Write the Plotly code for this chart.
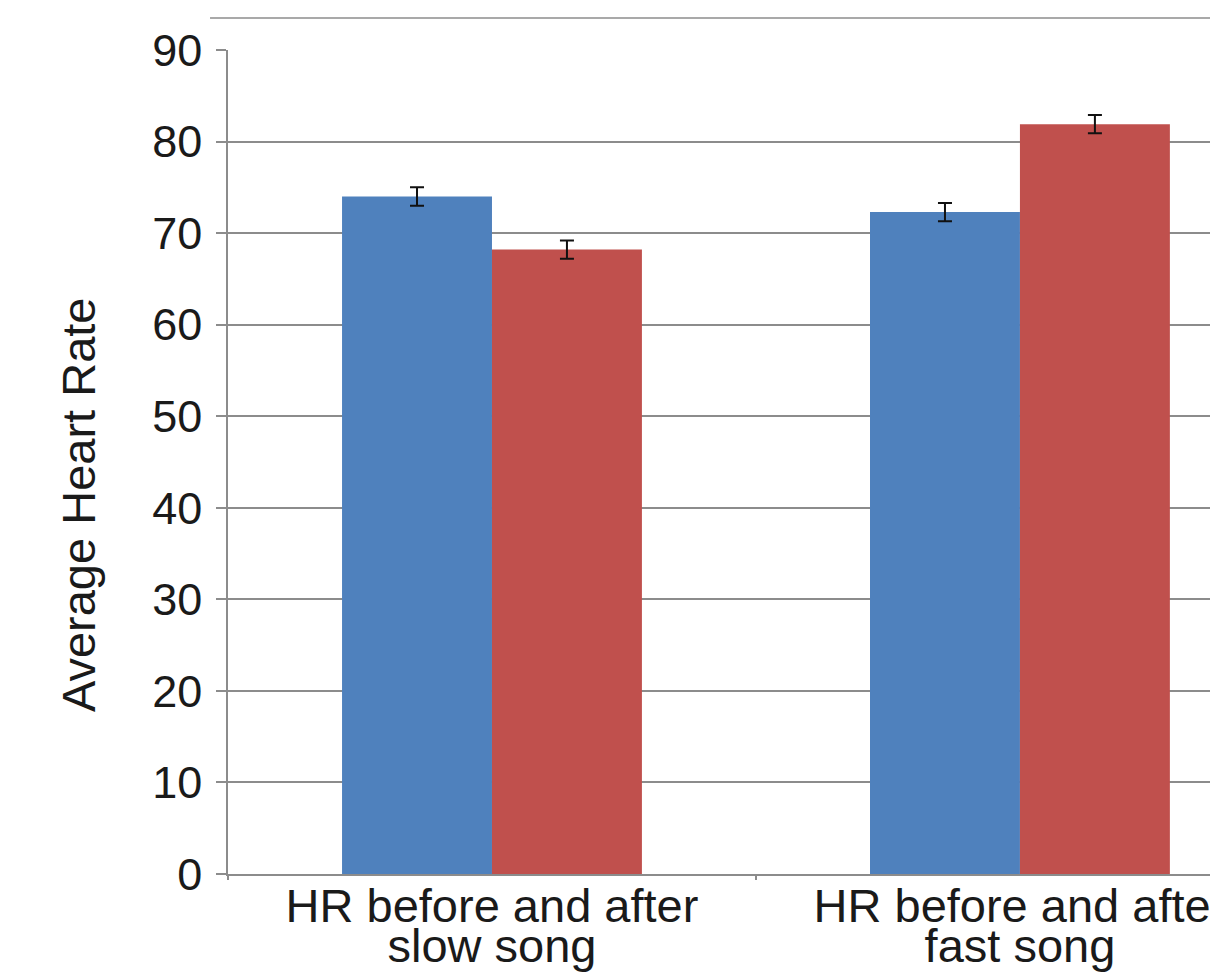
import plotly.graph_objects as go

# ---- data ----
categories = ["slow", "fast"]
label_line1 = ["HR before and after", "HR before and after"]
label_line2 = ["slow song", "fast song"]
hr_before = [74.0, 72.3]
hr_after = [68.2, 81.9]
err_before = [1.0, 1.0]
err_after = [1.0, 1.0]
y_ticks = [0, 10, 20, 30, 40, 50, 60, 70, 80, 90]
y_title = "Average Heart Rate"

BLUE = "#4F81BD"
RED = "#C0504D"
GRID = "#8c8c8c"
FONT = "Liberation Sans, Arial, sans-serif"
BIG = 47

ticktext = [
    f'<span style="font-size:{BIG}px">{a}</span><br><span style="font-size:{BIG}px">{b}</span>'
    for a, b in zip(label_line1, label_line2)
]

fig = go.Figure()
fig.add_trace(go.Bar(
    name="Before", x=categories, y=hr_before, marker=dict(color=BLUE, line=dict(width=0)),
    error_y=dict(type="data", array=err_before, color="#111111", thickness=2, width=7),
))
fig.add_trace(go.Bar(
    name="After", x=categories, y=hr_after, marker=dict(color=RED, line=dict(width=0)),
    error_y=dict(type="data", array=err_after, color="#111111", thickness=2, width=7),
))

fig.update_layout(
    width=1210, height=972,
    margin=dict(l=228, r=0, t=50, b=98, autoexpand=False),
    paper_bgcolor="white", plot_bgcolor="white",
    barmode="group", bargap=0.432, bargroupgap=0,
    showlegend=False,
    font=dict(family=FONT, color="#1a1a1a"),
)
fig.update_xaxes(
    type="category", categoryorder="array", categoryarray=categories,
    range=[-0.5, 1.36],
    tickmode="array", tickvals=categories, ticktext=ticktext,
    tickfont=dict(size=31, family=FONT, color="#1a1a1a"),
    showline=True, linecolor=GRID, linewidth=1.5,
    ticks="outside", tickson="boundaries", ticklen=4, tickcolor=GRID, tickwidth=1.5,
    showgrid=False, zeroline=False,
    ticklabelstandoff=9,
)
fig.update_yaxes(
    range=[0, 90], tickmode="array", tickvals=y_ticks,
    tickfont=dict(size=45, family=FONT, color="#1a1a1a"),
    showline=True, linecolor=GRID, linewidth=1.5,
    ticks="outside", ticklen=10, tickcolor=GRID, tickwidth=1.5,
    showgrid=True, gridcolor=GRID, gridwidth=1.5,
    zeroline=False,
    ticklabelstandoff=5,
)
fig.add_annotation(
    text=y_title, textangle=-90, xref="paper", yref="paper",
    x=-0.1527, y=0.4478, xanchor="center", yanchor="middle", showarrow=False,
    font=dict(size=BIG, family=FONT, color="#1a1a1a"),
)
# frame line above the plot
fig.add_shape(type="line", xref="paper", yref="paper", x0=-0.0183, x1=1.0, y0=1.0388, y1=1.0388,
              line=dict(color=GRID, width=1.5))

fig.write_html(
    "out.html",
    config={"displayModeBar": False},
    post_script="document.body.style.margin='0';document.documentElement.style.overflow='hidden';document.body.style.overflow='hidden';",
)
